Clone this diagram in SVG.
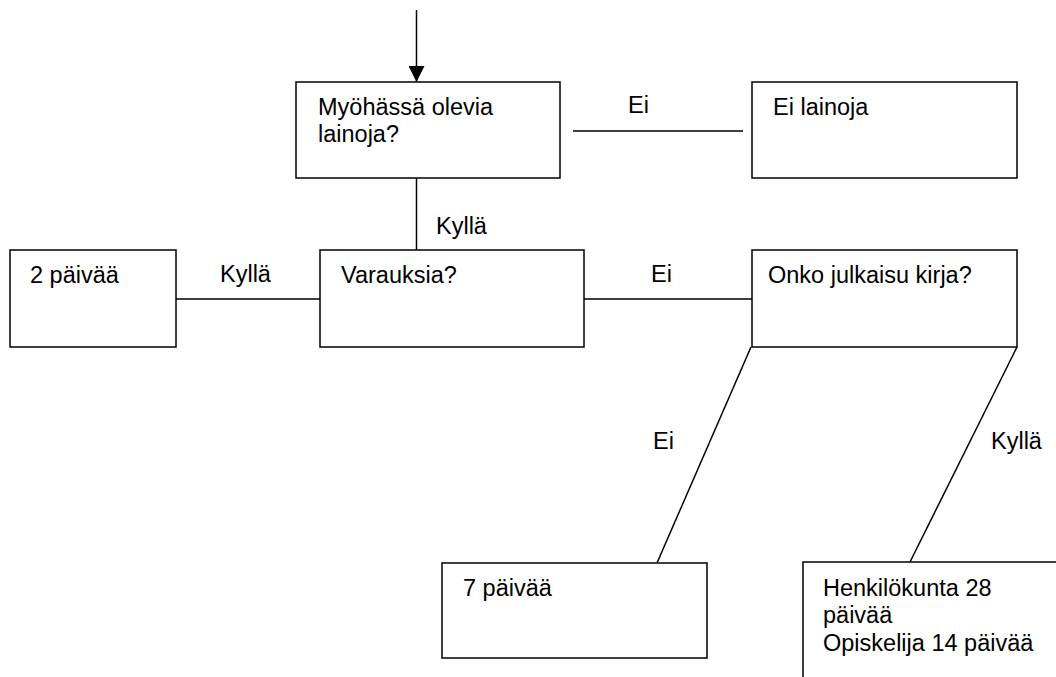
<svg xmlns="http://www.w3.org/2000/svg" width="1056" height="677" viewBox="0 0 1056 677">
<style>
.box{fill:#fff;stroke:#000;stroke-width:1.5}
.ln{stroke:#000;stroke-width:1.5;fill:none}
text{font-family:"Liberation Sans",Arial,sans-serif;font-size:23.5px;fill:#000}
</style>
<defs>
<marker id="ah" viewBox="0 0 16 16" refX="16" refY="8" markerWidth="16" markerHeight="16" markerUnits="userSpaceOnUse" orient="auto">
<path d="M0,0 L16,8 L0,16 Z" fill="#000"/>
</marker>
</defs>
<rect width="1056" height="677" fill="#fff"/>
<g id="connectors">
<line class="ln" x1="416.5" y1="10" x2="416.5" y2="82" marker-end="url(#ah)"/>
<line class="ln" x1="573" y1="131" x2="743" y2="131"/>
<line class="ln" x1="416.5" y1="178" x2="416.5" y2="250"/>
<line class="ln" x1="176" y1="299" x2="320" y2="299"/>
<line class="ln" x1="584" y1="299" x2="752" y2="299"/>
<line class="ln" x1="751" y1="347" x2="657" y2="563"/>
<line class="ln" x1="1017" y1="347" x2="910" y2="562"/>
<text x="628" y="113">Ei</text>
<text x="436" y="234">Kyllä</text>
<text x="220" y="282">Kyllä</text>
<text x="651" y="282">Ei</text>
<text x="653" y="449">Ei</text>
<text x="991" y="449">Kyllä</text>
</g>
<g id="n1">
<rect class="box" x="296" y="82" width="264" height="96"/>
<text x="318" y="115">Myöhässä olevia</text>
<text x="318" y="142">lainoja?</text>
</g>
<g id="n2">
<rect class="box" x="752" y="82" width="265" height="96"/>
<text x="773" y="115">Ei lainoja</text>
</g>
<g id="n3">
<rect class="box" x="10" y="250" width="166" height="97"/>
<text x="30" y="283">2 päivää</text>
</g>
<g id="n4">
<rect class="box" x="320" y="250" width="264" height="97"/>
<text x="341" y="283">Varauksia?</text>
</g>
<g id="n5">
<rect class="box" x="752" y="250" width="265" height="97"/>
<text x="768" y="283">Onko julkaisu kirja?</text>
</g>
<g id="n6">
<rect class="box" x="442" y="563" width="265" height="95"/>
<text x="463" y="596">7 päivää</text>
</g>
<g id="n7">
<rect class="box" x="803" y="562" width="270" height="130"/>
<text x="823" y="596">Henkilökunta 28</text>
<text x="823" y="623">päivää</text>
<text x="823" y="651">Opiskelija 14 päivää</text>
</g>
</svg>
